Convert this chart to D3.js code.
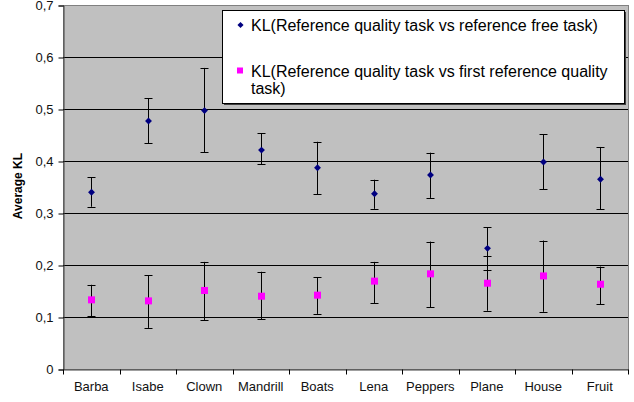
<!DOCTYPE html>
<html>
<head>
<meta charset="utf-8">
<script src="https://cdn.jsdelivr.net/npm/d3@7"></script>
<style>
  body { margin: 0; background: #fff; }
  text { font-family: Arial, "Liberation Sans", sans-serif; }
</style>
</head>
<body>
<svg id="chart" width="634" height="402"></svg>
<script>
    // images on x axis
    var images = ["Barba", "Isabe", "Clown", "Mandrill", "Boats", "Lena", "Peppers", "Plane", "House", "Fruit"];

    // KL(ref quality vs ref free): mean, lower, upper
    var freeMean  = [0.340, 0.477, 0.497, 0.421, 0.387, 0.337, 0.373, 0.232, 0.398, 0.365];
    var freeLow   = [0.312, 0.434, 0.417, 0.394, 0.336, 0.308, 0.329, 0.190, 0.346, 0.307];
    var freeHigh  = [0.369, 0.521, 0.579, 0.453, 0.437, 0.364, 0.416, 0.273, 0.451, 0.427];

    // KL(ref quality vs first ref quality)
    var firstMean = [0.133, 0.131, 0.151, 0.140, 0.142, 0.169, 0.183, 0.165, 0.179, 0.163];
    var firstLow  = [0.101, 0.079, 0.094, 0.096, 0.106, 0.127, 0.119, 0.112, 0.110, 0.125];
    var firstHigh = [0.162, 0.180, 0.206, 0.187, 0.176, 0.206, 0.245, 0.217, 0.247, 0.197];

    var yTicks = [0, 0.1, 0.2, 0.3, 0.4, 0.5, 0.6, 0.7];
    var legendLabels = [
        ["KL(Reference quality task vs reference free task)"],
        ["KL(Reference quality task vs first reference quality", "task)"]
    ];

    var svg = d3.select("#chart"),
        pLeft = 63, pRight = 628, pTop = 5, pBottom = 369;

    var x = d3.scaleBand().domain(images).range([pLeft, pRight]);
    var y = d3.scaleLinear().domain([0, 0.7]).range([pBottom, pTop]);

    // plot area
    svg.append("rect")
        .attr("x", pLeft + 0.5).attr("y", pTop + 0.5)
        .attr("width", pRight - pLeft).attr("height", pBottom - pTop)
        .style("fill", "#c0c0c0")
        .style("stroke", "#808080");

    // gridlines
    svg.selectAll(".grid")
        .data(yTicks.slice(1, -1))
        .enter()
        .append("line")
        .attr("class", "grid")
        .attr("x1", pLeft).attr("x2", pRight)
        .attr("y1", function (d) {return Math.round(y(d)) + 0.5;})
        .attr("y2", function (d) {return Math.round(y(d)) + 0.5;})
        .style("stroke", "#000");

    // y axis
    var yAxis = svg.append("g")
        .attr("transform", "translate(" + (pLeft + 0.5) + ",0.5)")
        .call(d3.axisLeft(y).tickValues(yTicks).tickSize(5).tickPadding(5)
            .tickFormat(function (d) {return d === 0 ? "0" : d3.format(".1f")(d).replace(".", ",");}));
    yAxis.selectAll("text").style("font-size", "13px").style("fill", "#111");

    // x axis
    var xAxis = svg.append("g")
        .attr("transform", "translate(0," + (pBottom + 0.5) + ")")
        .call(d3.axisBottom(x).tickSize(0).tickPadding(12));
    xAxis.selectAll("text").style("font-size", "13px").style("fill", "#111");
    xAxis.selectAll(".bound")
        .data(images.concat(["end"]))
        .enter()
        .append("line")
        .attr("class", "bound")
        .attr("x1", function (d, i) {return Math.round(pLeft + i * x.bandwidth()) + 0.5;})
        .attr("x2", function (d, i) {return Math.round(pLeft + i * x.bandwidth()) + 0.5;})
        .attr("y1", 0).attr("y2", 5)
        .style("stroke", "#000");
    svg.selectAll(".domain").style("stroke", "#404040");

    // y label
    svg.append("text")
        .attr("transform", "translate(22,186) rotate(-90)")
        .attr("text-anchor", "middle")
        .style("font-size", "12px")
        .style("font-weight", "bold")
        .text("Average KL");

    function errorBars(mean, low, high) {
        var g = svg.append("g");
        var cx = function (d, i) {return Math.round(x(images[i]) + x.bandwidth() / 2) + 0.5;};
        g.selectAll("line.v").data(mean).enter().append("line")
            .attr("class", "v")
            .attr("x1", cx).attr("x2", cx)
            .attr("y1", function (d, i) {return y(low[i]);})
            .attr("y2", function (d, i) {return y(high[i]);})
            .style("stroke", "#000");
        [low, high].forEach(function (arr) {
            g.selectAll(null).data(arr).enter().append("line")
                .attr("x1", function (d, i) {return cx(d, i) - 4;})
                .attr("x2", function (d, i) {return cx(d, i) + 4;})
                .attr("y1", function (d) {return Math.round(y(d)) + 0.5;})
                .attr("y2", function (d) {return Math.round(y(d)) + 0.5;})
                .style("stroke", "#000");
        });
    }

    errorBars(freeMean, freeLow, freeHigh);
    errorBars(firstMean, firstLow, firstHigh);

    var diamond = d3.symbol().type(d3.symbolDiamond2).size(30);

    svg.selectAll(".free")
        .data(freeMean)
        .enter()
        .append("path")
        .attr("class", "free")
        .attr("d", diamond)
        .attr("transform", function (d, i) {return "translate(" + (Math.round(x(images[i]) + x.bandwidth() / 2) + 0.5) + "," + y(d) + ")";})
        .style("fill", "#000080");

    svg.selectAll(".first")
        .data(firstMean)
        .enter()
        .append("rect")
        .attr("class", "first")
        .attr("x", function (d, i) {return Math.round(x(images[i]) + x.bandwidth() / 2) - 3;})
        .attr("y", function (d) {return y(d) - 3.5;})
        .attr("width", 7).attr("height", 7)
        .style("fill", "#ff00ff");

    // legend
    var leg = svg.append("g");
    leg.append("rect")
        .attr("x", 224).attr("y", 12).attr("width", 402).attr("height", 93)
        .style("fill", "#404040");
    leg.append("rect")
        .attr("x", 222.5).attr("y", 10.5).attr("width", 402).attr("height", 93)
        .style("fill", "#fff").style("stroke", "#000");

    leg.append("path")
        .attr("d", d3.symbol().type(d3.symbolDiamond2).size(24))
        .attr("transform", "translate(240.5,25)")
        .style("fill", "#000080");
    leg.append("rect")
        .attr("x", 237).attr("y", 67.5).attr("width", 6).attr("height", 6)
        .style("fill", "#ff00ff");

    var baselines = [31, 77];
    legendLabels.forEach(function (lines, k) {
        var t = leg.append("text")
            .attr("x", 251).attr("y", baselines[k])
            .style("font-size", "16px")
            .style("fill", "#000");
        lines.forEach(function (s, j) {
            t.append("tspan").attr("x", 251).attr("dy", j ? 17 : 0).text(s);
        });
    });
</script>
</body>
</html>
